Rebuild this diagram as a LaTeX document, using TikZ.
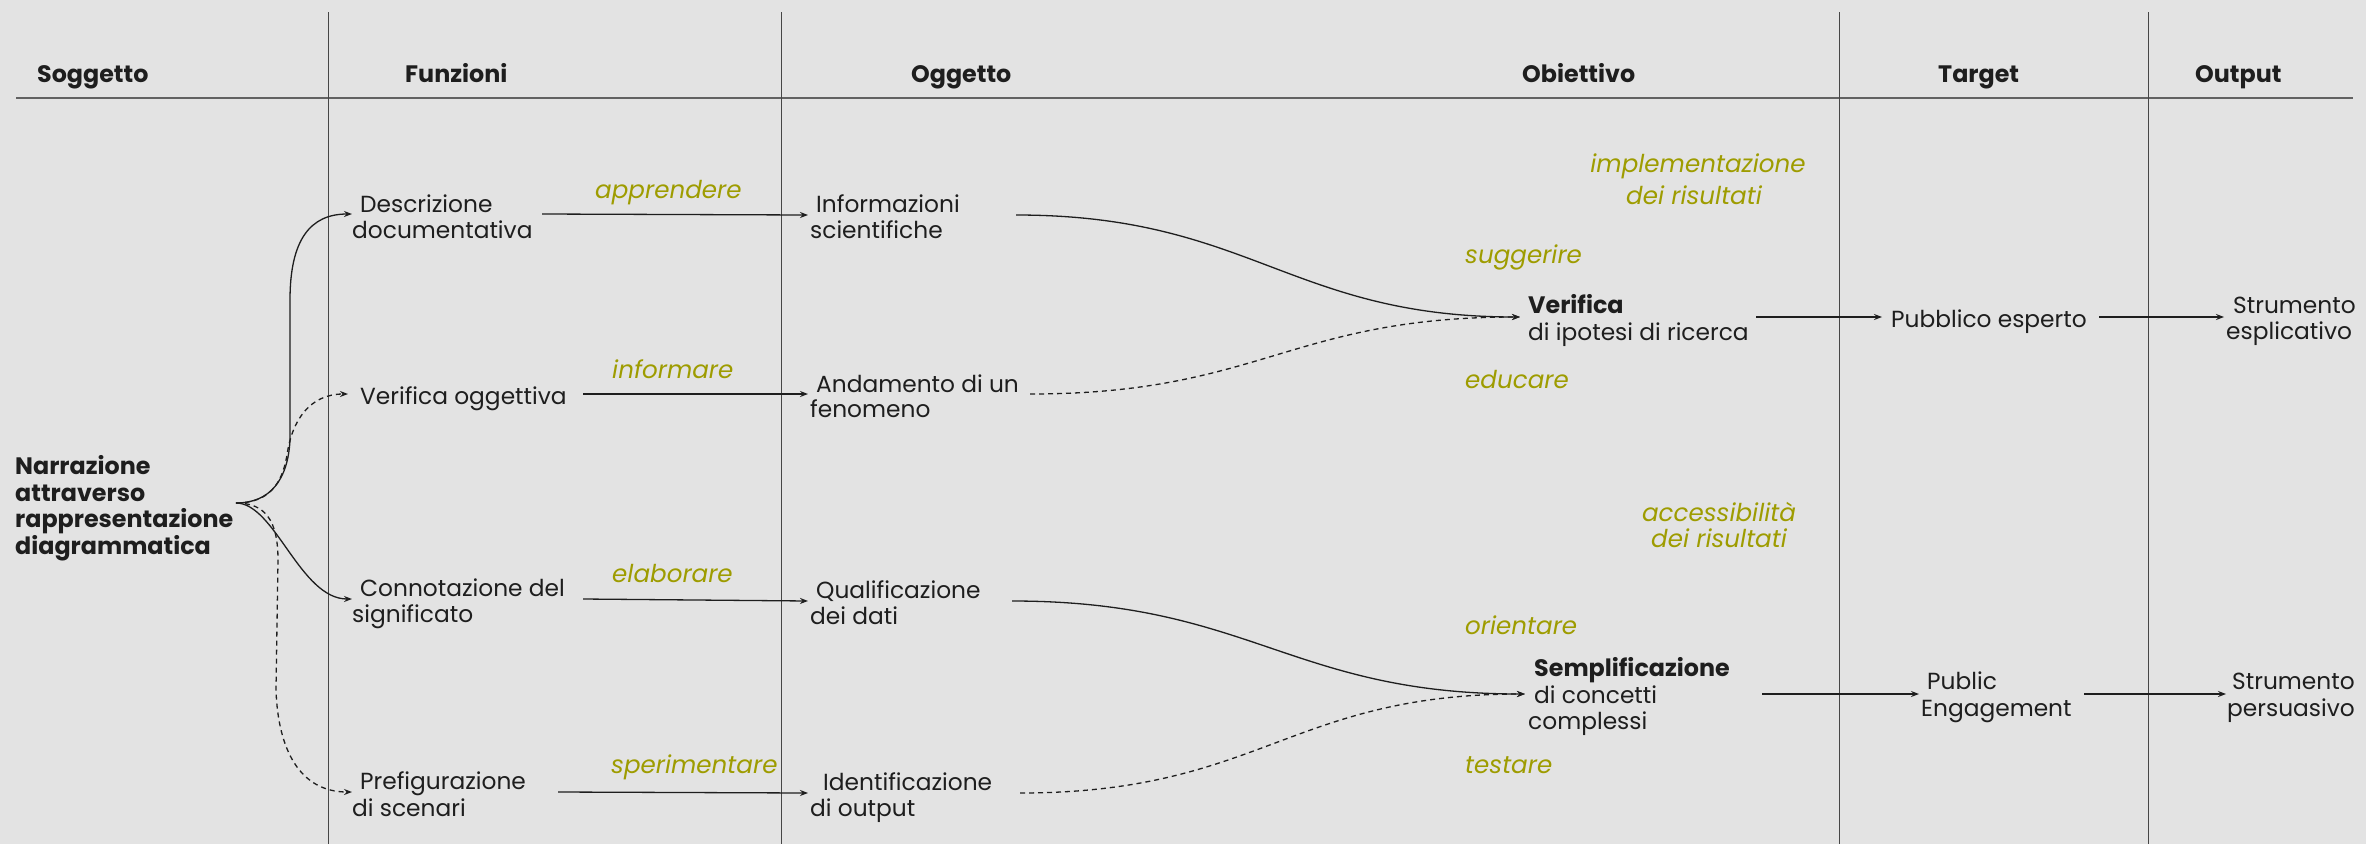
\documentclass[tikz,border=0pt]{standalone}
\usepackage{fontspec}
\setmainfont{Poppins}
\usetikzlibrary{arrows.meta}
\definecolor{bgc}{RGB}{227,227,227}
\definecolor{verbc}{RGB}{158,156,0}
\definecolor{ink}{RGB}{30,30,30}
\definecolor{rulec}{RGB}{70,70,70}
\begin{document}
\begin{tikzpicture}[x=1pt,y=-1pt,
  txt/.style={anchor=base west, inner sep=0pt, text=ink, font=\fontsize{23.3}{27}\selectfont},
  bld/.style={anchor=base west, inner sep=0pt, text=ink, font=\fontsize{23.8}{27}\selectfont\bfseries},
  verb/.style={anchor=base west, inner sep=0pt, text=verbc, font=\fontsize{24.6}{27}\selectfont\itshape},
  verbc/.style={verb, anchor=base},
  conn/.style={draw=ink, line width=1.3pt, -{Stealth[length=8pt,width=6pt]}},
  dconn/.style={conn, dash pattern=on 5pt off 4pt},
  vline/.style={draw=rulec, line width=1pt},
  hline/.style={draw=rulec!85, line width=1.5pt},
]
\fill[bgc] (0,0) rectangle (2366,844);
\useasboundingbox (0,0) rectangle (2366,844);

% grid lines
\coordinate (hlA) at (16,98);
\coordinate (hlB) at (2353,98);
\draw[hline] (hlA) -- (hlB);
\foreach \x/\n in {328/a,781/b,1839/c,2148/d}{
  \coordinate (vt\n) at (\x,12);
  \coordinate (vb\n) at (\x,844);
  \draw[vline] (vt\n) -- (vb\n);
}

% headers
\node[bld] (hSog) at (37,82) {Soggetto};
\node[bld] (hFun) at (405,82) {Funzioni};
\node[bld] (hOgg) at (911,82) {Oggetto};
\node[bld] (hObi) at (1522,82) {Obiettivo};
\node[bld] (hTar) at (1938,82) {Target};
\node[bld] (hOut) at (2195,82) {Output};

% subject
\node[bld] (n1) at (15,474) {Narrazione};
\node[bld] (n2) at (15,501) {attraverso};
\node[bld] (n3) at (15,527) {rappresentazione};
\node[bld] (n4) at (15,554) {diagrammatica};
\coordinate (fork) at (236,503);

% functions
\node[txt] (desc1) at (360,212) {Descrizione};
\node[txt] (desc2) at (352,238) {documentativa};
\node[txt] (ver1) at (360,404) {Verifica oggettiva};
\node[txt] (con1) at (360,596) {Connotazione del};
\node[txt] (con2) at (352,622) {significato};
\node[txt] (pre1) at (360,789) {Prefigurazione};
\node[txt] (pre2) at (352,816) {di scenari};

\coordinate (descIn) at (352,214);
\coordinate (verIn) at (348,394);
\coordinate (conIn) at (352,599);
\coordinate (preIn) at (352,792);

\draw[conn] (fork) .. controls (270,503) and (288,480) .. (290,440) -- (290,300) .. controls (290,240) and (310,214) .. (descIn);
\draw[dconn] (fork) .. controls (268,503) and (282,485) .. (287,455) .. controls (292,420) and (310,394) .. (verIn);
\draw[conn] (fork) .. controls (275,503) and (300,599) .. (conIn);
\draw[dconn] (fork) .. controls (265,503) and (278,520) .. (278,560) -- (276,690) .. controls (278,750) and (300,792) .. (preIn);

% verbs col 2
\node[verb] (vApp) at (595,198) {apprendere};
\node[verb] (vInf) at (612,378) {informare};
\node[verb] (vEla) at (612,582) {elaborare};
\node[verb] (vSpe) at (611,773) {sperimentare};

\coordinate (descOut) at (542,214);
\coordinate (verOut) at (583,394);
\coordinate (conOut) at (583,599);
\coordinate (preOut) at (558,792);
\coordinate (infIn) at (808,215);
\coordinate (andIn) at (808,394);
\coordinate (quaIn) at (808,601);
\coordinate (ideIn) at (808,793);
\draw[conn] (descOut) -- (infIn);
\draw[conn] (verOut) -- (andIn);
\draw[conn] (conOut) -- (quaIn);
\draw[conn] (preOut) -- (ideIn);

% objects
\node[txt] (inf1) at (816,212) {Informazioni};
\node[txt] (inf2) at (810,238) {scientifiche};
\node[txt] (and1) at (816,392) {Andamento di un};
\node[txt] (and2) at (810,417) {fenomeno};
\node[txt] (qua1) at (816,598) {Qualificazione};
\node[txt] (qua2) at (810,624) {dei dati};
\node[txt] (ide1) at (823,790) {Identificazione};
\node[txt] (ide2) at (810,816) {di output};

\coordinate (infOut) at (1016,215);
\coordinate (andOut) at (1030,394);
\coordinate (quaOut) at (1012,601);
\coordinate (ideOut) at (1020,793);
\coordinate (vfIn) at (1520,317);
\coordinate (smIn) at (1525,694);
\draw[conn] (infOut) .. controls (1250,215) and (1290,317) .. (vfIn);
\draw[dconn] (andOut) .. controls (1260,394) and (1290,317) .. (vfIn);
\draw[conn] (quaOut) .. controls (1250,601) and (1290,694) .. (smIn);
\draw[dconn] (ideOut) .. controls (1260,793) and (1290,694) .. (smIn);

% objectives
\node[bld] (vf1) at (1528,313) {Verifica};
\node[txt] (vf2) at (1528,340) {di ipotesi di ricerca};
\node[bld] (sm1) at (1534,676) {Semplificazione};
\node[txt] (sm2) at (1534,703) {di concetti};
\node[txt] (sm3) at (1528,729) {complessi};

\node[verbc] (impl1) at (1698,172) {implementazione};
\node[verbc] (impl2) at (1694,204) {dei risultati};
\node[verb] (vSug) at (1465,263) {suggerire};
\node[verb] (vEdu) at (1465,388) {educare};
\node[verbc] (acc1) at (1719,521) {accessibilità};
\node[verbc] (acc2) at (1719,547) {dei risultati};
\node[verb] (vOri) at (1465,634) {orientare};
\node[verb] (vTes) at (1465,773) {testare};

% target and output
\node[txt] (pub1) at (1891,327) {Pubblico esperto};
\node[txt] (str1) at (2233,313) {Strumento};
\node[txt] (str2) at (2226,339) {esplicativo};
\node[txt] (pe1) at (1927,689) {Public};
\node[txt] (pe2) at (1921,716) {Engagement};
\node[txt] (sp1) at (2232,689) {Strumento};
\node[txt] (sp2) at (2227,716) {persuasivo};

\coordinate (vfOut) at (1756,317);
\coordinate (pubIn) at (1882,317);
\coordinate (pubOut) at (2099,317);
\coordinate (strIn) at (2224,317);
\coordinate (smOut) at (1762,694);
\coordinate (peIn) at (1919,694);
\coordinate (peOut) at (2084,694);
\coordinate (spIn) at (2226,694);
\draw[conn] (vfOut) -- (pubIn);
\draw[conn] (pubOut) -- (strIn);
\draw[conn] (smOut) -- (peIn);
\draw[conn] (peOut) -- (spIn);
\end{tikzpicture}
\end{document}
